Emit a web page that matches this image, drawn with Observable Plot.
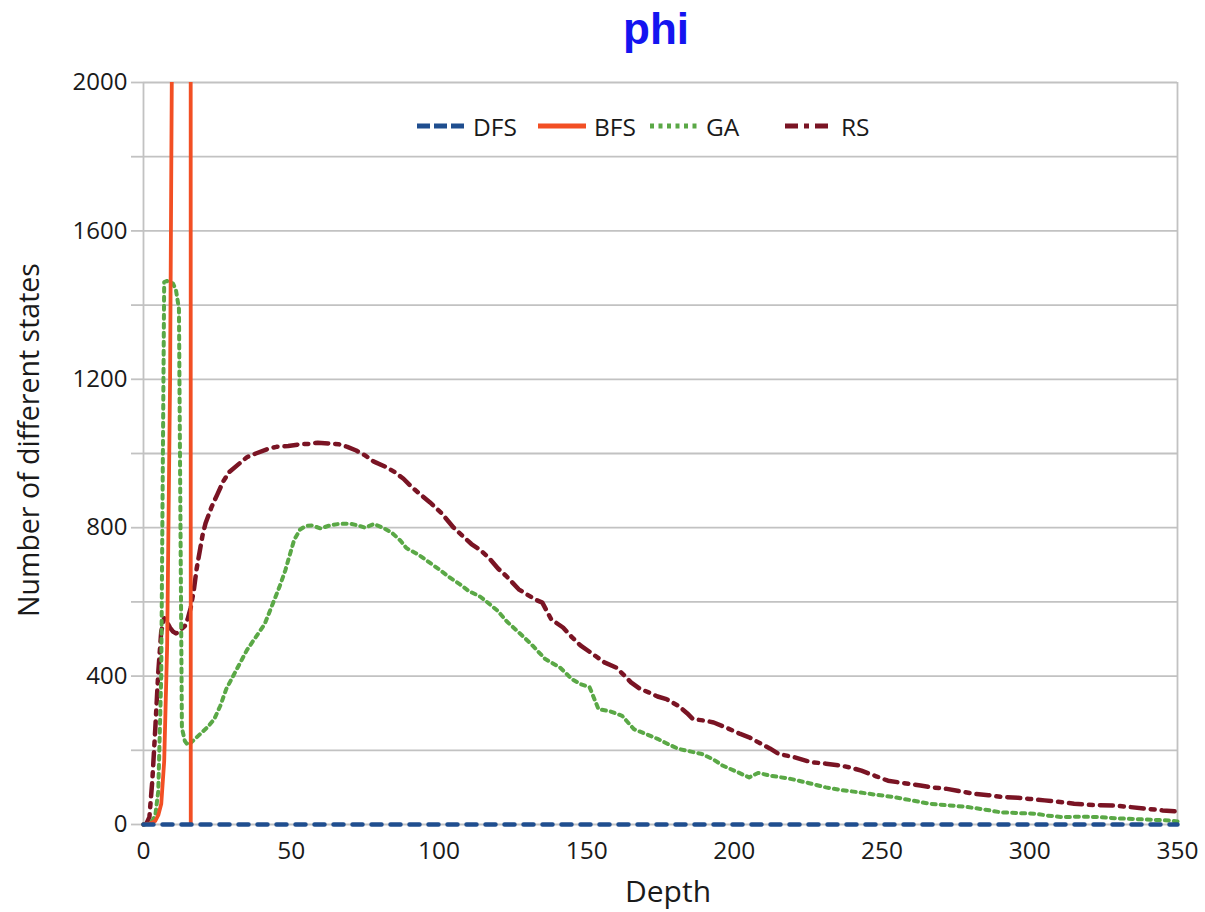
<!DOCTYPE html>
<html>
<head>
<meta charset="utf-8">
<script src="https://cdn.jsdelivr.net/npm/d3@7"></script>
<script src="https://cdn.jsdelivr.net/npm/@observablehq/plot@0.6"></script>
<style>
  html, body { margin: 0; padding: 0; background: #fff; }
  #wrap { position: relative; width: 1205px; height: 912px; font-family: "Open Sans", sans-serif; color: #1a1a1a; }
  #title { position: absolute; left: 556px; width: 200px; top: 4px; text-align: center; font-family: "Liberation Sans", Arial, sans-serif; font-weight: bold; font-size: 44px; color: #1414f0; }
  .lg { position: absolute; top: 110px; height: 32px; display: flex; align-items: center; font-size: 24.5px; }
  .lg svg { margin-right: 8px; }
  #xlabel { position: absolute; left: 568px; width: 200px; top: 870px; text-align: center; font-size: 30px; line-height: 41px; }
  #ylabel { position: absolute; left: 28px; top: 440px; transform: translate(-50%, -50%) rotate(-90deg); white-space: nowrap; font-size: 28.5px; }
</style>
</head>
<body>
<div id="wrap">
  <div id="title">phi</div>
  <div id="xlabel">Depth</div>
  <div id="ylabel">Number of different states</div>
</div>
<script>
// ---- data ----
const dfsDepth = [0, 350];
const dfsValue = [0, 0];

const bfsDepth = [0, 1, 2, 3, 4, 5, 6, 7, 8, 9, 10, 11, 12, 13, 14, 15, 16];
const bfsValue = [0, 1, 2, 5, 10, 25, 55, 170, 480, 1200, 2600, 5000, 10000, 20000, 40000, 80000, 0];

const gaDepth = [0, 1, 2, 3, 4, 5, 6, 7, 8, 9, 10, 11, 12, 13, 14, 15, 16, 18, 20, 22, 24, 26, 28, 30, 33, 35, 38, 41, 44, 46, 48, 50, 51, 53, 55, 57, 60, 63, 66, 70, 73, 75, 78, 81, 84, 87, 89, 92, 94, 97, 100, 104, 107, 110, 114, 117, 120, 123, 127, 131, 136, 141, 145, 148, 151, 154, 158, 162, 166, 170, 174, 178, 181, 185, 189, 193, 196, 200, 205, 208, 212, 219, 225, 231, 236, 242, 248, 254, 260, 266, 272, 279, 285, 290, 296, 302, 306, 311, 317, 323, 329, 335, 341, 347, 350];
const gaValue = [0, 1, 3, 10, 25, 90, 400, 1462, 1465, 1462, 1458, 1440, 1390, 260, 225, 214, 220, 235, 250, 265, 285, 320, 365, 395, 440, 470, 505, 540, 600, 640, 685, 740, 767, 795, 805, 806, 798, 806, 810, 811, 805, 800, 810, 800, 787, 765, 745, 732, 722, 705, 688, 664, 648, 630, 614, 595, 575, 547, 518, 488, 446, 423, 392, 378, 370, 311, 305, 293, 257, 244, 231, 215, 204, 197, 190, 175, 159, 145, 127, 139, 132, 123, 112, 100, 93, 87, 80, 74, 65, 56, 52, 47, 40, 33, 31, 29, 24, 20, 21, 20, 17, 15, 13, 11, 8];

const rsDepth = [0, 1, 2, 3, 4, 5, 6, 7, 8, 9, 10, 11, 12, 13, 14, 15, 16, 17, 18, 19, 20, 21, 23, 25, 27, 29, 32, 35, 38, 42, 45, 49, 53, 56, 59, 63, 66, 69, 72, 75, 78, 82, 85, 88, 91, 94, 97, 101, 105, 108, 111, 114, 117, 120, 123, 127, 130, 133, 135, 138, 142, 145, 148, 152, 156, 160, 163, 165, 168, 171, 174, 177, 181, 184, 186, 190, 193, 197, 202, 205, 208, 212, 215, 220, 226, 231, 236, 240, 243, 248, 252, 257, 263, 267, 272, 276, 281, 286, 291, 296, 300, 305, 311, 315, 320, 324, 329, 334, 340, 345, 350];
const rsValue = [0, 3, 20, 120, 260, 410, 520, 556, 545, 530, 520, 515, 520, 528, 535, 555, 585, 630, 690, 735, 780, 812, 855, 890, 925, 950, 970, 990, 1000, 1012, 1018, 1020, 1025, 1026, 1029, 1027, 1025, 1018, 1008, 995, 978, 964, 950, 932, 908, 888, 868, 838, 800, 778, 756, 740, 718, 690, 668, 634, 619, 605, 598, 553, 531, 505, 482, 460, 437, 423, 400, 383, 366, 356, 345, 338, 320, 300, 284, 280, 275, 262, 244, 235, 222, 205, 190, 182, 168, 164, 159, 152, 145, 130, 118, 112, 105, 100, 96, 90, 83, 79, 74, 72, 69, 65, 60, 56, 53, 52, 51, 47, 42, 38, 35];

const xTicks = [0, 50, 100, 150, 200, 250, 300, 350];
const yGrid = [0, 200, 400, 600, 800, 1000, 1200, 1400, 1600, 1800, 2000];
const yLabels = [0, 400, 800, 1200, 1600, 2000];

const seriesNames = ["DFS", "BFS", "GA", "RS"];
const seriesColors = ["#1f4e8f", "#f24f24", "#5aa846", "#7a1424"];
const seriesDash = ["10,9", null, "4,5", "13,7,4,7"];

const toRows = (ds, vs) => ds.map((d, i) => ({depth: d, value: vs[i]}));
const dfs = toRows(dfsDepth, dfsValue);
const bfs = toRows(bfsDepth, bfsValue);
const ga = toRows(gaDepth, gaValue);
const rs = toRows(rsDepth, rsValue);

const grid = "#c2c2c2";

const chart = Plot.plot({
  width: 1205,
  height: 912,
  marginLeft: 143,
  marginRight: 28,
  marginTop: 82,
  marginBottom: 88,
  style: {fontFamily: "Open Sans, sans-serif", fontSize: "24px", color: "#1a1a1a", background: "transparent", overflow: "visible"},
  x: {domain: [0, 350]},
  y: {domain: [0, 2000]},
  marks: [
    Plot.ruleY(yGrid, {stroke: grid, strokeWidth: 1.8}),
    Plot.ruleX([0, 350], {stroke: grid, strokeWidth: 1.8}),
    Plot.axisY({ticks: yGrid, tickSize: 12, tickPadding: 4, stroke: grid, strokeWidth: 1.8, tickFormat: d => yLabels.includes(d) ? String(d) : "", label: null, fontSize: 24}),
    Plot.axisX({ticks: xTicks, tickSize: 0, tickPadding: 17, label: null, fontSize: 24.5}),
    Plot.line(rs, {x: "depth", y: "value", stroke: seriesColors[3], strokeWidth: 4.5, strokeDasharray: seriesDash[3]}),
    Plot.line(ga, {x: "depth", y: "value", stroke: seriesColors[2], strokeWidth: 4, strokeDasharray: seriesDash[2]}),
    Plot.line(bfs, {x: "depth", y: "value", stroke: seriesColors[1], strokeWidth: 3.8, clip: true}),
    Plot.line(dfs, {x: "depth", y: "value", stroke: seriesColors[0], strokeWidth: 4.5, strokeDasharray: seriesDash[0]})
  ]
});
chart.style.position = "absolute";
chart.style.left = "0px";
chart.style.top = "0px";
const wrap = document.getElementById("wrap");
wrap.insertBefore(chart, wrap.firstChild);

// legend
const legendLeft = [417, 538, 650, 785];
seriesNames.forEach((name, i) => {
  const div = document.createElement("div");
  div.className = "lg";
  div.style.left = legendLeft[i] + "px";
  const dash = i === 0 ? "13,4" : i === 2 ? "4,4.5" : i === 3 ? "13,6,5,6" : "";
  div.innerHTML = `<svg width="48" height="12"><line x1="0" x2="48" y1="6" y2="6" stroke="${seriesColors[i]}" stroke-width="5" ${dash ? `stroke-dasharray="${dash}"` : ""}/></svg><span>${name}</span>`;
  wrap.appendChild(div);
});
</script>
</body>
</html>
